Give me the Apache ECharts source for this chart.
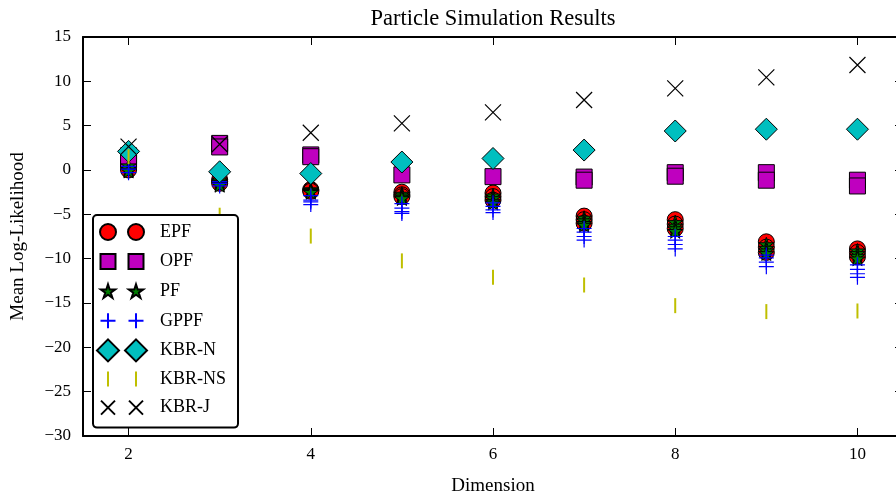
<!DOCTYPE html>
<html>
<head>
<meta charset="utf-8">
<script src="https://cdn.jsdelivr.net/npm/echarts@6/dist/echarts.min.js"></script>
<style>
  html, body { margin: 0; padding: 0; background: #fff; }
  #chart { width: 896px; height: 493px; }
</style>
</head>
<body>
<div id="chart"></div>
<script>
// Problem dimension on the x axis
const dims = [2, 3, 4, 5, 6, 7, 8, 9, 10];

// Mean log-likelihood per run, grouped by dimension
const epf = [
  [0.6, 0.3, 0.0], [-1.1, -1.3, -1.5], [-2.2, -2.3, -2.4], [-2.5, -2.8, -3.0],
  [-2.6, -3.0, -3.4], [-5.2, -5.6, -6.0], [-5.6, -6.1, -6.6], [-8.1, -8.7, -9.3],
  [-8.9, -9.3, -9.8]
];
const opf = [
  [1.6, 1.2], [3.0, 2.6], [1.7, 1.5], [-0.55], [-0.75], [-0.8, -1.15],
  [-0.3, -0.7], [-0.3, -1.15], [-1.15, -1.8]
];
const pf = [
  [0.5, 0.2, 0.0, -0.1], [-1.2, -1.4, -1.6, -1.7], [-2.2, -2.3, -2.4, -2.5],
  [-2.7, -2.9, -3.1, -3.2], [-2.9, -3.2, -3.5, -3.7], [-5.4, -5.7, -6.0, -6.2],
  [-5.9, -6.3, -6.6, -6.9], [-8.4, -8.8, -9.1, -9.4], [-9.1, -9.4, -9.7, -10.0]
];
const gppf = [
  [0.4, 0.1, -0.3], [-1.3, -1.5, -1.8], [-2.9, -3.4, -3.6, -3.9],
  [-3.8, -4.3, -4.7, -4.9], [-3.7, -4.1, -4.5, -4.8], [-6.6, -7.0, -7.5, -7.9],
  [-7.5, -7.9, -8.4, -8.9], [-9.6, -9.9, -10.4, -10.9], [-10.7, -11.2, -11.7, -12.1]
];
const kbrN = [[2.1], [-0.2], [-0.4], [0.9], [1.3], [2.25], [4.4], [4.6], [4.6]];
const kbrNS = [[1.5], [-5.1], [-7.45], [-10.25], [-12.1], [-12.97], [-15.3], [-15.97], [-15.9]];
const kbrJ = [[2.63], [2.9], [4.2], [5.26], [6.5], [7.9], [9.2], [10.45], [11.84]];

// Tick positions
const xTicks = [2, 4, 6, 8, 10];
const yTicks = [-30, -25, -20, -15, -10, -5, 0, 5, 10, 15];

const FONT = '"Liberation Serif", "DejaVu Serif", serif';

function toPoints(groups) {
  const out = [];
  dims.forEach((d, i) => groups[i].forEach(v => out.push([d, v])));
  return out;
}

// Five-pointed star outline centred at (cx, cy)
function starPath(cx, cy, R, r) {
  let s = '';
  for (let k = 0; k < 10; k++) {
    const a = -Math.PI / 2 + k * Math.PI / 5;
    const rad = k % 2 ? r : R;
    s += (k ? 'L' : 'M') + (cx + rad * Math.cos(a)).toFixed(2) + ',' + (cy + rad * Math.sin(a)).toFixed(2);
  }
  return s + 'Z';
}

// Marker shapes for the plot
const STAR = 'path://' + starPath(10, 10, 10, 3.82);
const PLUS = 'path://M0,7H14M7,0V14';
const CROSS = 'path://M0,0L14,14M14,0L0,14';

// Legend icons: two markers per entry inside a shared 50x24 box
const BOX = 'M0,0M50,24';
const A = 11, B = 39, C = 12;
const legendIcons = {
  EPF: 'path://' + BOX + `M${A-8},${C}a8,8 0 1,0 16,0a8,8 0 1,0 -16,0ZM${B-8},${C}a8,8 0 1,0 16,0a8,8 0 1,0 -16,0Z`,
  OPF: 'path://' + BOX + `M${A-7.5},${C-7.5}h15v15h-15ZM${B-7.5},${C-7.5}h15v15h-15Z`,
  PF: 'path://' + BOX + starPath(A, C + 0.6, 7.6, 2.9) + starPath(B, C + 0.6, 7.6, 2.9),
  GPPF: 'path://' + BOX + `M${A},${C-7.5}V${C+7.5}M${A-7.5},${C}H${A+7.5}M${B},${C-7.5}V${C+7.5}M${B-7.5},${C}H${B+7.5}`,
  'KBR-N': 'path://' + BOX + `M${A},${C-11}L${A+11},${C}L${A},${C+11}L${A-11},${C}ZM${B},${C-11}L${B+11},${C}L${B},${C+11}L${B-11},${C}Z`,
  'KBR-NS': 'path://' + BOX + `M${A-1},${C-7.5}h2v15h-2ZM${B-1},${C-7.5}h2v15h-2Z`,
  'KBR-J': 'path://' + BOX + `M${A-7},${C-7}L${A+7},${C+7}M${A+7},${C-7}L${A-7},${C+7}M${B-7},${C-7}L${B+7},${C+7}M${B+7},${C-7}L${B-7},${C+7}`
};

function scatter(name, groups, symbol, size, itemStyle, extra) {
  return Object.assign({
    name: name,
    type: 'scatter',
    xAxisIndex: 0,
    yAxisIndex: 0,
    symbol: symbol,
    symbolSize: size,
    itemStyle: Object.assign({ opacity: 1 }, itemStyle),
    emphasis: { disabled: true },
    data: toPoints(groups)
  }, extra || {});
}

const axisLineStyle = { color: '#000', width: 2 };
const tickStyle = { color: '#000', width: 1 };
const minusFmt = v => (v < 0 ? '\u2212' + Math.abs(v) : String(v));

const option = {
  animation: false,
  backgroundColor: '#fff',
  title: {
    text: 'Particle Simulation Results',
    left: 488,
    textAlign: 'center',
    top: 3,
    textStyle: { fontFamily: FONT, fontSize: 22.5, fontWeight: 'normal', color: '#000' }
  },
  grid: { left: 83, right: -7, top: 37, bottom: 57, containLabel: false, outerBoundsMode: 'none' },
  legend: {
    orient: 'vertical',
    left: 93,
    top: 215,
    padding: [4, 12, 7, 3],
    itemWidth: 50,
    itemHeight: 24,
    itemGap: 3.6,
    backgroundColor: '#fff',
    borderColor: '#000',
    borderWidth: 2,
    borderRadius: 4,
    selectedMode: false,
    textStyle: { fontFamily: FONT, fontSize: 18, lineHeight: 20, color: '#000', padding: [0, 0, 0, 8] },
    data: Object.keys(legendIcons).map(n => ({ name: n, icon: legendIcons[n] }))
  },
  xAxis: [
    {
      type: 'value', position: 'bottom', min: 1.5, max: 10.5,
      name: 'Dimension', nameLocation: 'middle', nameGap: 41,
      nameTextStyle: { fontFamily: FONT, fontSize: 19, color: '#000' },
      axisLine: { show: true, onZero: false, lineStyle: axisLineStyle },
      axisTick: { show: true, inside: true, length: 8, customValues: xTicks, lineStyle: tickStyle },
      axisLabel: { customValues: xTicks, margin: 10, fontFamily: FONT, fontSize: 17, color: '#000' },
      splitLine: { show: false }
    },
    {
      type: 'value', position: 'top', min: 1.5, max: 10.5,
      axisLine: { show: true, onZero: false, lineStyle: axisLineStyle },
      axisTick: { show: true, inside: true, length: 8, customValues: xTicks, lineStyle: tickStyle },
      axisLabel: { show: false },
      splitLine: { show: false }
    }
  ],
  yAxis: [
    {
      type: 'value', position: 'left', min: -30, max: 15,
      name: 'Mean Log-Likelihood', nameLocation: 'middle', nameGap: 55, nameRotate: 90,
      nameTextStyle: { fontFamily: FONT, fontSize: 19, color: '#000' },
      axisLine: { show: true, onZero: false, lineStyle: axisLineStyle },
      axisTick: { show: true, inside: true, length: 8, customValues: yTicks, lineStyle: tickStyle },
      axisLabel: { customValues: yTicks, margin: 12, fontFamily: FONT, fontSize: 17, color: '#000', formatter: minusFmt },
      splitLine: { show: false }
    },
    {
      type: 'value', position: 'right', min: -30, max: 15,
      axisLine: { show: true, onZero: false, lineStyle: axisLineStyle },
      axisTick: { show: true, inside: true, length: 8, customValues: yTicks, lineStyle: tickStyle },
      axisLabel: { show: false },
      splitLine: { show: false }
    }
  ],
  series: [
    scatter('EPF', epf, 'circle', 16, { color: '#ff0000', borderColor: '#000', borderWidth: 1 }),
    scatter('OPF', opf, 'rect', 16, { color: '#bf00bf', borderColor: '#000', borderWidth: 1 }),
    scatter('PF', pf, STAR, 15, { color: '#008000', borderColor: '#000', borderWidth: 1 }, { symbolKeepAspect: true }),
    scatter('GPPF', gppf, PLUS, 15, { color: 'rgba(0,0,0,0)', borderColor: '#0000ff', borderWidth: 1.2 }),
    scatter('KBR-N', kbrN, 'diamond', 22, { color: '#00bfbf', borderColor: '#000', borderWidth: 1 }),
    scatter('KBR-NS', kbrNS, 'rect', [2, 15], { color: '#bfbf00', borderWidth: 0 }),
    scatter('KBR-J', kbrJ, CROSS, 16, { color: 'rgba(0,0,0,0)', borderColor: '#000', borderWidth: 1.2 })
  ]
};

const chart = echarts.init(document.getElementById('chart'), null, { renderer: 'canvas' });
chart.setOption(option);
</script>
</body>
</html>
